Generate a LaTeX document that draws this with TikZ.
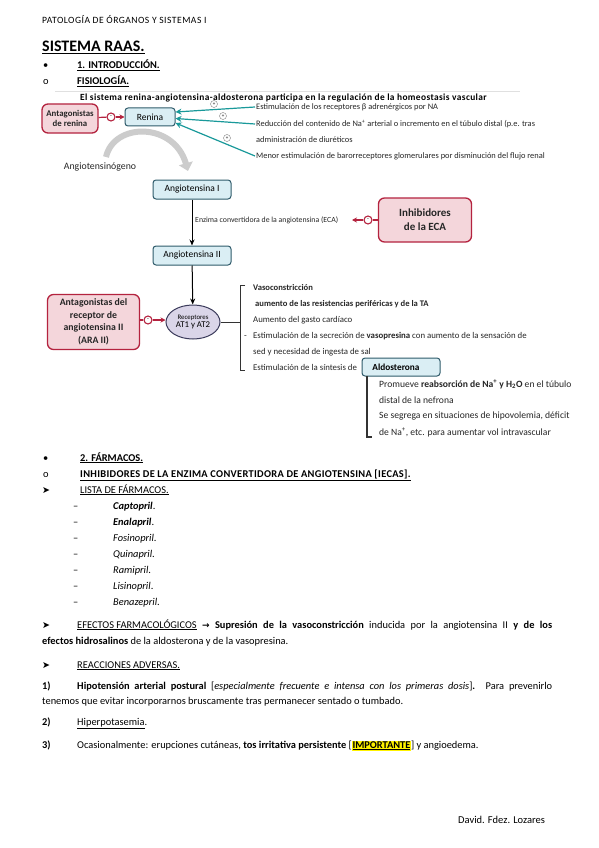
\documentclass[tikz,border=0pt]{standalone}
\usepackage{fontspec}
\setmainfont{Carlito}
\newfontfamily\dejavu{DejaVu Sans}
\usetikzlibrary{arrows.meta,shapes.geometric}
\definecolor{redb}{HTML}{B4233F}
\definecolor{redf}{HTML}{F4D6DB}
\definecolor{blueb}{HTML}{2F5B6B}
\definecolor{bluef}{HTML}{DAEEF4}
\definecolor{tealc}{HTML}{19999A}
\definecolor{lavf}{HTML}{DAD5E8}
\definecolor{lavb}{HTML}{3C3C5C}
\setlength{\fboxsep}{0.6pt}
\begin{document}
\begin{tikzpicture}[x=1pt,y=-1pt,
  txt/.style={anchor=base west,inner sep=0pt,font=\fontsize{10.4}{12}\selectfont},
  sm/.style={anchor=base west,inner sep=0pt,font=\fontsize{8.4}{10}\selectfont,text=black!85},
  smb/.style={anchor=base west,inner sep=0pt,font=\fontsize{8.8}{10}\selectfont,text=black!85},
  sma/.style={anchor=base west,inner sep=0pt,font=\fontsize{9.6}{10}\selectfont,text=black!85},
  bluebox/.style={draw=blueb,fill=bluef,rounded corners=3pt,line width=1pt,inner sep=1pt,font=\fontsize{9.5}{10}\selectfont},
  redbox/.style={draw=redb,fill=redf,rounded corners=6pt,line width=1.3pt,inner sep=1pt,align=center,font=\fontsize{9.5}{12}\selectfont\bfseries,text=black!85},
  inh/.style={circle,draw=redb,fill=white,line width=1.1pt,minimum size=8pt,inner sep=0pt,font=\fontsize{6}{6}\selectfont},
  inharr/.style={draw=redb,line width=1.2pt,-{Stealth[length=5pt,width=5pt]}},
  plus/.style={circle,draw=black!50,fill=white,minimum size=7pt,inner sep=0pt,font=\fontsize{5}{5}\selectfont},
  tarr/.style={draw=tealc,line width=1.2pt,-{Stealth[length=6pt,width=6pt]}},
  blk/.style={draw=black,line width=1pt,-{Stealth[length=6pt,width=5pt]}},
  brk/.style={draw=black!80,line width=0.9pt}]
\fill[white] (0,0) rectangle (599,848);
\useasboundingbox (0,0) rectangle (599,848);

% header
\node[txt,font=\fontsize{9.6}{11}\selectfont\addfontfeatures{LetterSpace=5}] (hdr) at (42,24) {PATOLOGÍA DE ÓRGANOS Y SISTEMAS I};
\node[txt,font=\fontsize{16}{18}\selectfont\bfseries] (title) at (42,52) {\underline{SISTEMA RAAS.}};
\node[txt] (b1) at (43,69) {•};
\node[txt] (s1) at (77,69) {\textbf{\underline{1. INTRODUCCIÓN.}}};
\node[txt] (b2) at (43,85) {o};
\node[txt] (s2) at (77,85) {\textbf{\underline{FISIOLOGÍA.}}};
\draw[black!12] (55,91) -- (520,91);
\node[txt,font=\fontsize{9.4}{10}\selectfont\bfseries\addfontfeatures{LetterSpace=4}] (intro) at (80,100.5) {El sistema renina-angiotensina-aldosterona participa en la regulación de la homeostasis vascular};

% renina part
\node[redbox,minimum width=56pt,minimum height=29pt,font=\fontsize{8.8}{10}\selectfont\bfseries] (antren) at (70,118.5) {Antagonistas\\de renina};
\node[bluebox,minimum width=50pt,minimum height=18pt] (renina) at (150,117) {Renina};
\node[inh] (c1) at (111,117) {-};
\draw[draw=redb,line width=1.2pt] (antren) -- (c1);
\draw[inharr] (c1) -- (renina);

\coordinate (t1) at (255,107);
\coordinate (t2) at (255,124);
\coordinate (t4) at (255,156);
\draw[tarr] (t1) -- (renina.east |- 0,112);
\draw[tarr] (t2) -- (renina.east |- 0,118.5);
\draw[tarr] (t4) -- (renina.east |- 0,123);
\node[plus] (p1) at (214,104) {+};
\node[plus] (p2) at (223,116) {+};
\node[plus] (p3) at (227,138) {+};
\node[sm] (r1) at (256,109.5) {Estimulación de los receptores β adrenérgicos por NA};
\node[sm] (r2) at (256,126.5) {Reducción del contenido de Na\textsuperscript{+} arterial o incremento en el túbulo distal (p.e. tras};
\node[sm] (r3) at (256,142.5) {administración de diuréticos};
\node[sm] (r4) at (256,158) {Menor estimulación de barorreceptores glomerulares por disminución del flujo renal};

\draw[line width=6pt,gray!40,-{Triangle[length=8pt,width=14pt]}] (106,157) .. controls (114,122) and (174,122) .. (188,171);
\node[inner sep=0pt,font=\fontsize{9.8}{11}\selectfont,text=black!85] (angn) at (100,167) {Angiotensinógeno};

\node[bluebox,minimum width=78pt,minimum height=19pt] (ang1) at (192,189.5) {Angiotensina I};
\node[bluebox,minimum width=78pt,minimum height=19pt] (ang2) at (192,255.5) {Angiotensina II};
\draw[blk] (ang1) -- (ang2);
\node[sm,font=\fontsize{7.8}{9}\selectfont] (eca) at (195,222.5) {Enzima convertidora de la angiotensina (ECA)};
\node[redbox,minimum width=93pt,minimum height=44pt,font=\fontsize{11}{14}\selectfont\bfseries] (iec) at (425,220) {Inhibidores\\de la ECA};
\node[inh] (c2) at (368,220) {-};
\coordinate (ecaend) at (352,220);
\draw[draw=redb,line width=1.2pt] (iec) -- (c2);
\draw[inharr] (c2) -- (ecaend);

\node[ellipse,draw=lavb,fill=lavf,line width=1pt,minimum width=54pt,minimum height=34pt,inner sep=0pt,align=center,font=\fontsize{6.8}{8}\selectfont] (rec) at (193,322) {Receptores\\{\fontsize{8.8}{9}\selectfont AT1 y AT2}};
\draw[blk] (ang2) -- (rec);
\node[redbox,minimum width=92pt,minimum height=55pt,font=\fontsize{9.8}{12.5}\selectfont\bfseries] (ara) at (93.5,322) {Antagonistas del\\receptor de\\angiotensina II\\(ARA II)};
\node[inh] (c3) at (148,320) {-};
\draw[draw=redb,line width=1.2pt] (ara.east |- c3) -- (c3);
\draw[inharr] (c3) -- (rec.west |- c3);

\coordinate (br1) at (240,322);
\draw[brk] (rec) -- (br1);
\draw[brk] (245,285) -- (240,285) -- (240,370) -- (245,370);
\node[smb,font=\fontsize{8.6}{10}\selectfont\bfseries] (e1) at (253,290.5) {Vasoconstricción};
\node[smb,font=\fontsize{8.6}{10}\selectfont\bfseries] (e2) at (255,306) {aumento de las resistencias periféricas y de la TA};
\node[smb] (e3) at (253,322) {Aumento del gasto cardíaco};
\node[smb] (e4d) at (244,338) {-};
\node[smb] (e4) at (253,338) {Estimulación de la secreción de \textbf{vasopresina} con aumento de la sensación de};
\node[smb] (e5) at (253,354) {sed y necesidad de ingesta de sal};
\node[smb] (e6) at (253,370) {Estimulación de la síntesis de};
\node[bluebox,minimum width=78pt,minimum height=18pt,font=\fontsize{9.3}{10}\selectfont\bfseries] (aldo) at (401,367) {Aldosterona\hspace*{10pt}};
\coordinate (b2t) at (367,376);
\draw[brk,line width=1.2pt] (b2t) -- (367,437) -- (372,437);
\node[sma] (a1) at (379,387) {Promueve \textbf{reabsorción de Na\textsuperscript{+} y H\textsubscript{2}O} en el túbulo};
\node[sma] (a2) at (379,403) {distal de la nefrona};
\node[sma] (a3) at (379,418) {Se segrega en situaciones de hipovolemia, déficit};
\node[sma] (a4) at (379,435) {de Na\textsuperscript{+}, etc. para aumentar vol intravascular};

% farmacos
\node[txt] (b3) at (43,461) {•};
\node[txt] (f1) at (80,461) {\textbf{\underline{2. FÁRMACOS.}}};
\node[txt] (b4) at (43,477) {o};
\node[txt,font=\fontsize{10.4}{12}\selectfont\addfontfeatures{LetterSpace=3}] (f2) at (80,477) {\textbf{\underline{INHIBIDORES DE LA ENZIMA CONVERTIDORA DE ANGIOTENSINA [IECAS].}}};
\node[txt,font=\fontsize{9.5}{10}\dejavu] (b5) at (42,493) {➤};
\node[txt] (f3) at (80,493) {\underline{LISTA DE FÁRMACOS.}};
\node[txt] (d1) at (73,509) {–};
\node[txt] (g1) at (113,509) {\textbf{\textit{Captopril}}.};
\node[txt] (d2) at (73,525) {–};
\node[txt] (g2) at (113,525) {\textbf{\textit{Enalapril}}.};
\node[txt] (d3) at (73,541) {–};
\node[txt] (g3) at (113,541) {\textit{Fosinopril}.};
\node[txt] (d4) at (73,557) {–};
\node[txt] (g4) at (113,557) {\textit{Quinapril}.};
\node[txt] (d5) at (73,573) {–};
\node[txt] (g5) at (113,573) {\textit{Ramipril}.};
\node[txt] (d6) at (73,589) {–};
\node[txt] (g6) at (113,589) {\textit{Lisinopril}.};
\node[txt] (d7) at (73,605) {–};
\node[txt] (g7) at (113,605) {\textit{Benazepril}.};

\node[txt,font=\fontsize{9.5}{10}\dejavu] (b6) at (42,628) {➤};
\node[txt] (ef1) at (77,628) {\makebox[475pt][s]{\underline{EFECTOS FARMACOLÓGICOS} \textbf{{\dejavu\fontsize{9}{10}\selectfont →} Supresión de la vasoconstricción} inducida por la angiotensina II \textbf{y de los}}};
\node[txt] (ef2) at (42,644) {\textbf{efectos hidrosalinos} de la aldosterona y de la vasopresina.};

\node[txt,font=\fontsize{9.5}{10}\dejavu] (b7) at (42,668) {➤};
\node[txt] (ra) at (77,668) {\underline{REACCIONES ADVERSAS.}};
\node[txt] (n1) at (42,689) {\textbf{1)}};
\node[txt] (ra1) at (77,689) {\makebox[475pt][s]{\textbf{Hipotensión arterial postural} [\textit{especialmente frecuente e intensa con los primeras dosis}]\textbf{.} Para prevenirlo}};
\node[txt] (ra1b) at (42,704) {tenemos que evitar incorporarnos bruscamente tras permanecer sentado o tumbado.};
\node[txt] (n2) at (42,725) {\textbf{2)}};
\node[txt] (ra2) at (77,725) {\underline{Hiperpotasemia}.};
\node[txt] (n3) at (42,748) {\textbf{3)}};
\node[txt] (ra3) at (77,748) {Ocasionalmente: erupciones cutáneas, \textbf{tos irritativa persistente} [\colorbox{yellow}{\textbf{\underline{IMPORTANTE}}}] y angioedema.};

\node[txt,font=\fontsize{10.5}{12}\selectfont] (auth) at (458,823) {David. Fdez. Lozares};
\end{tikzpicture}
\end{document}
